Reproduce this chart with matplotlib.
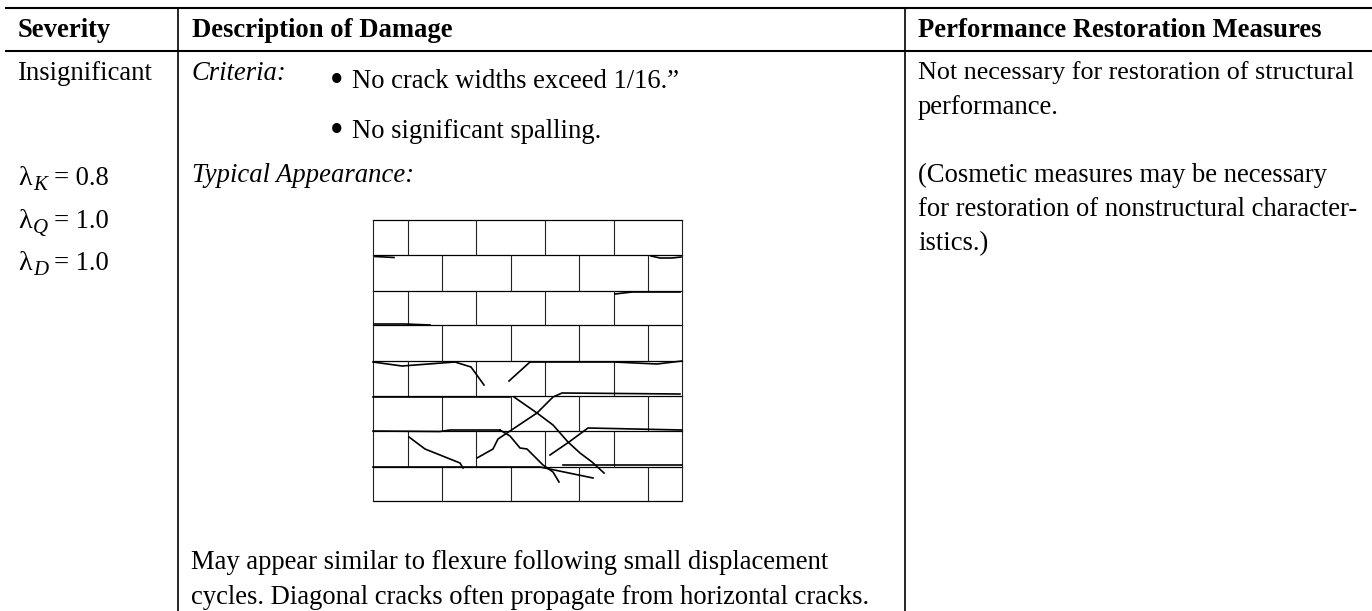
import matplotlib
matplotlib.use("Agg")
import matplotlib.pyplot as plt

plt.rcParams['font.family'] = ['Liberation Serif', 'DejaVu Serif']

W = 1372
H = 611

# table rules, in pixels of the page
rule_y = [8, 51]
rule_x = [178, 905]
rule_left = 5

headers = ["Severity", "Description of Damage", "Performance Restoration Measures"]
header_x = [18, 192, 918]

lambda_subs = ["K", "Q", "D"]
lambda_vals = ["= 0.8", "= 1.0", "= 1.0"]
lambda_y = [185, 228, 270]

right_lines = ["Not necessary for restoration of structural", "performance.",
               "(Cosmetic measures may be necessary", "for restoration of nonstructural character-", "istics.)"]
right_y = [79, 114, 182, 216, 250]

bullets = ["No crack widths exceed 1/16.\u201d", "No significant spalling."]
bullet_y = [88, 138]

# brick wall
row_y = [220, 255, 291, 325, 361, 396, 431, 467, 501]
odd_x = [408, 476, 545, 614]
even_x = [442, 511, 579, 648]
wall_left = 373
wall_right = 682

# cracks
cracks = [
    ([375, 394], [256.5, 257.5]),
    ([651, 660, 672, 681], [256, 258, 258, 257]),
    ([615, 632, 680], [294, 292, 292]),
    ([374, 405, 430], [324, 324, 325]),
    ([373, 402, 455, 471, 484], [362, 366, 362, 367, 385]),
    ([509, 530], [381, 362]),
    ([530, 593, 614, 657, 682], [362, 362, 362, 364, 361]),
    ([373, 510], [397, 397]),
    ([477, 493, 498, 510, 537, 553, 562, 680], [458, 449, 439, 431, 413, 397, 393, 394]),
    ([514, 537, 553, 568, 580, 592, 604], [397, 413, 425, 442, 453, 462, 473]),
    ([373, 440, 450, 500], [431, 431.5, 430, 430]),
    ([500, 510, 520, 527, 543, 553, 559], [430, 436, 448, 449, 465, 472, 482]),
    ([550, 569, 588, 682], [455, 442, 428, 430]),
    ([409, 425, 460, 463], [437, 449, 463, 468]),
    ([373, 540, 593], [467, 467, 478]),
    ([563, 682], [465, 465]),
]

fig = plt.figure(figsize=(W / 100, H / 100), dpi=100)
ax = fig.add_axes([0, 0, 1, 1])
ax.set_xlim(0, W)
ax.set_ylim(H, 0)
ax.axis('off')

for y in rule_y:
    ax.plot([rule_left, W], [y, y], color='black', lw=1.5, solid_capstyle='butt')
for x in rule_x:
    ax.plot([x, x], [8, H], color='black', lw=1.2, solid_capstyle='butt')

fs = 19.2
for t, x in zip(headers, header_x):
    ax.text(x, 37, t, fontsize=fs, fontweight='bold', va='baseline', ha='left')

ax.text(18, 80, "Insignificant", fontsize=fs, va='baseline')
for s, v, y in zip(lambda_subs, lambda_vals, lambda_y):
    ax.text(18, y, "\u03bb", fontsize=fs + 1, va='baseline')
    ax.text(33, y + 5, s, fontsize=15, style='italic', va='baseline')
    ax.text(53.5, y, v, fontsize=fs, va='baseline')

ax.text(192, 79.5, "Criteria:", fontsize=fs, style='italic', va='baseline')
ax.text(192, 182, "Typical Appearance:", fontsize=fs, style='italic', va='baseline')
for t, y in zip(bullets, bullet_y):
    ax.text(337, y + 4, "\u2022", fontsize=28, va='baseline', ha='center')
    ax.text(352, y, t, fontsize=fs, va='baseline')
ax.text(191, 569, "May appear similar to flexure following small displacement", fontsize=fs, va='baseline')
ax.text(191, 604, "cycles. Diagonal cracks often propagate from horizontal cracks.", fontsize=fs, va='baseline')

for t, y in zip(right_lines, right_y):
    # the first line is set a little tighter in the original
    ax.text(918, y, t, fontsize=18.85 if y == 79 else fs, va='baseline')

# wall: courses alternate between the two joint patterns
for y in row_y:
    ax.plot([wall_left, wall_right], [y, y], color='black', lw=0.9, solid_capstyle='projecting')
for i in range(len(row_y) - 1):
    joints = odd_x if i % 2 == 0 else even_x
    for x in [wall_left] + joints + [wall_right]:
        ax.plot([x, x], [row_y[i], row_y[i + 1]], color='#222222', lw=0.8, solid_capstyle='butt')

for xs, ys in cracks:
    ax.plot(xs, ys, color='black', lw=1.2, solid_joinstyle='round')

fig.savefig("out.png", dpi=100)
